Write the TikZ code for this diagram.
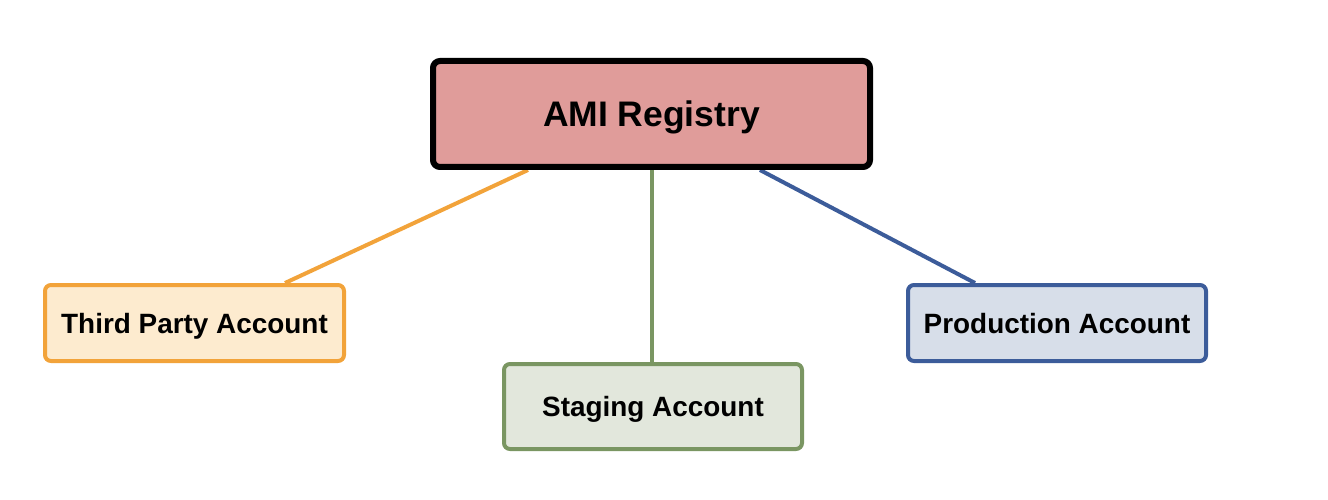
\documentclass[tikz,border=0pt]{standalone}
\usepackage{fontspec}
\setmainfont{Liberation Sans}
\usetikzlibrary{backgrounds}
\definecolor{amifill}{HTML}{E09C9A}
\definecolor{orline}{HTML}{F2A33A}
\definecolor{orfill}{HTML}{FDEBCF}
\definecolor{grline}{HTML}{7A9662}
\definecolor{grfill}{HTML}{E2E7DC}
\definecolor{blline}{HTML}{3C5C9A}
\definecolor{blfill}{HTML}{D7DEE9}
\tikzset{
  acct/.style={draw, line width=4pt, rounded corners=6pt, inner sep=0pt,
    minimum width=299pt, text depth=0pt, font=\fontsize{27.9}{32}\selectfont\bfseries},
  conn/.style={line width=4pt}
}
\begin{document}
\begin{tikzpicture}[x=1pt,y=-1pt]
\useasboundingbox (0,0) rectangle (1328,500);
\node[draw, line width=6pt, fill=amifill, rounded corners=7pt, inner sep=0pt,
  minimum width=437pt, minimum height=106pt, text depth=0pt,
  font=\fontsize{35.5}{40}\selectfont\bfseries] (ami) at (651.5,114) {AMI Registry};
\node[acct, draw=orline, fill=orfill, minimum height=76pt] (tp) at (194.5,323) {Third Party Account};
\node[acct, draw=grline, fill=grfill, minimum width=298pt, minimum height=85pt] (st) at (653,406.5) {Staging Account};
\node[acct, draw=blline, fill=blfill, minimum width=298pt, minimum height=76pt] (pr) at (1057,323) {Production Account};
\begin{scope}[on background layer]
\draw[conn, orline] ([xshift=-123.5pt]ami.south) -- ([xshift=90.5pt]tp.north);
\draw[conn, grline] ([xshift=0.5pt]ami.south) -- ([xshift=-1pt]st.north);
\draw[conn, blline] ([xshift=108.5pt]ami.south) -- ([xshift=-82pt]pr.north);
\end{scope}
\end{tikzpicture}
\end{document}
